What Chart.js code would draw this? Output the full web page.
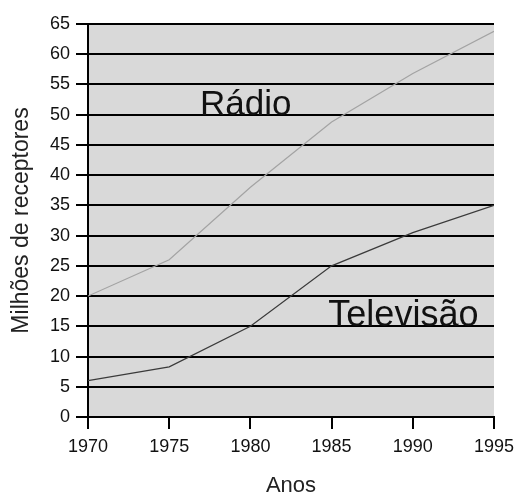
<!DOCTYPE html>
<html>
<head>
<meta charset="utf-8">
<script src="https://cdn.jsdelivr.net/npm/chart.js@4/dist/chart.umd.min.js"></script>
<style>
  html, body { margin: 0; padding: 0; background: #fff; }
  #wrap { width: 516px; height: 497px; }
</style>
</head>
<body>
<div id="wrap"><canvas id="chart"></canvas></div>
<script>
// years on the x axis
const years = [1970, 1975, 1980, 1985, 1990, 1995];
// millions of receivers
const radio = [20, 26, 38, 48.8, 56.8, 63.8];
const televisao = [6, 8.3, 15, 25, 30.5, 35];

const seriesNames = ['Rádio', 'Televisão'];
// where the in-plot labels sit: [year, value] of the text baseline start
const labelAt = [[1976.9, 50], [1984.8, 15]];
const labelSize = [35, 36];

const FONT = 'Liberation Sans, Arial, sans-serif';

const plotBg = {
    id: 'plotBg',
    beforeDraw(chart) {
        const { ctx, chartArea: a } = chart;
        ctx.save();
        ctx.fillStyle = '#d9d9d9';
        ctx.fillRect(a.left, a.top, a.right - a.left, a.bottom - a.top);
        ctx.restore();
    }
};

const seriesText = {
    id: 'seriesText',
    afterDatasetsDraw(chart) {
        const { ctx, scales: { x, y } } = chart;
        ctx.save();
        ctx.fillStyle = '#111';
        ctx.textBaseline = 'alphabetic';
        ctx.textAlign = 'left';
        seriesNames.forEach((name, i) => {
            ctx.font = labelSize[i] + 'px ' + FONT;
            ctx.fillText(name, x.getPixelForValue(labelAt[i][0]), y.getPixelForValue(labelAt[i][1]));
        });
        ctx.restore();
    }
};

new Chart(document.getElementById('chart'), {
    type: 'line',
    data: {
        datasets: [
            {
                label: seriesNames[0],
                data: years.map((yr, i) => ({ x: yr, y: radio[i] })),
                borderColor: '#a3a3a3',
                borderWidth: 1.2,
                pointRadius: 0,
                tension: 0
            },
            {
                label: seriesNames[1],
                data: years.map((yr, i) => ({ x: yr, y: televisao[i] })),
                borderColor: '#3a3a3a',
                borderWidth: 1.2,
                pointRadius: 0,
                tension: 0
            }
        ]
    },
    options: {
        responsive: true,
        maintainAspectRatio: false,
        animation: false,
        layout: { padding: { top: 24, right: 22, left: 0, bottom: 0 } },
        plugins: {
            legend: { display: false },
            tooltip: { enabled: false }
        },
        scales: {
            x: {
                type: 'linear',
                min: 1970,
                max: 1995,
                afterFit: s => {
                    s.height = 80;
                    s.paddingRight = 0;
                    s.paddingLeft = 0;
                },
                ticks: {
                    stepSize: 5,
                    color: '#111',
                    padding: 7,
                    font: { family: FONT, size: 18 },
                    callback: v => String(v)
                },
                grid: {
                    drawOnChartArea: false,
                    drawTicks: true,
                    tickLength: 12,
                    color: '#000',
                    lineWidth: 2
                },
                border: { display: true, color: '#000', width: 2 },
                title: {
                    display: true,
                    text: 'Anos',
                    color: '#222',
                    font: { family: FONT, size: 22, lineHeight: 1 },
                    padding: { top: 0, bottom: 0 }
                }
            },
            y: {
                min: 0,
                max: 65,
                afterFit: s => { s.width = 88; },
                ticks: {
                    stepSize: 5,
                    color: '#111',
                    padding: 6,
                    font: { family: FONT, size: 18 }
                },
                grid: {
                    drawTicks: true,
                    tickLength: 12,
                    color: '#000',
                    lineWidth: 2
                },
                border: { display: true, color: '#000', width: 2 },
                title: {
                    display: true,
                    text: 'Milhões de receptores',
                    color: '#222',
                    font: { family: FONT, size: 23, lineHeight: 1 },
                    padding: { top: 10, bottom: 0 }
                }
            }
        }
    },
    plugins: [plotBg, seriesText]
});
</script>
</body>
</html>
